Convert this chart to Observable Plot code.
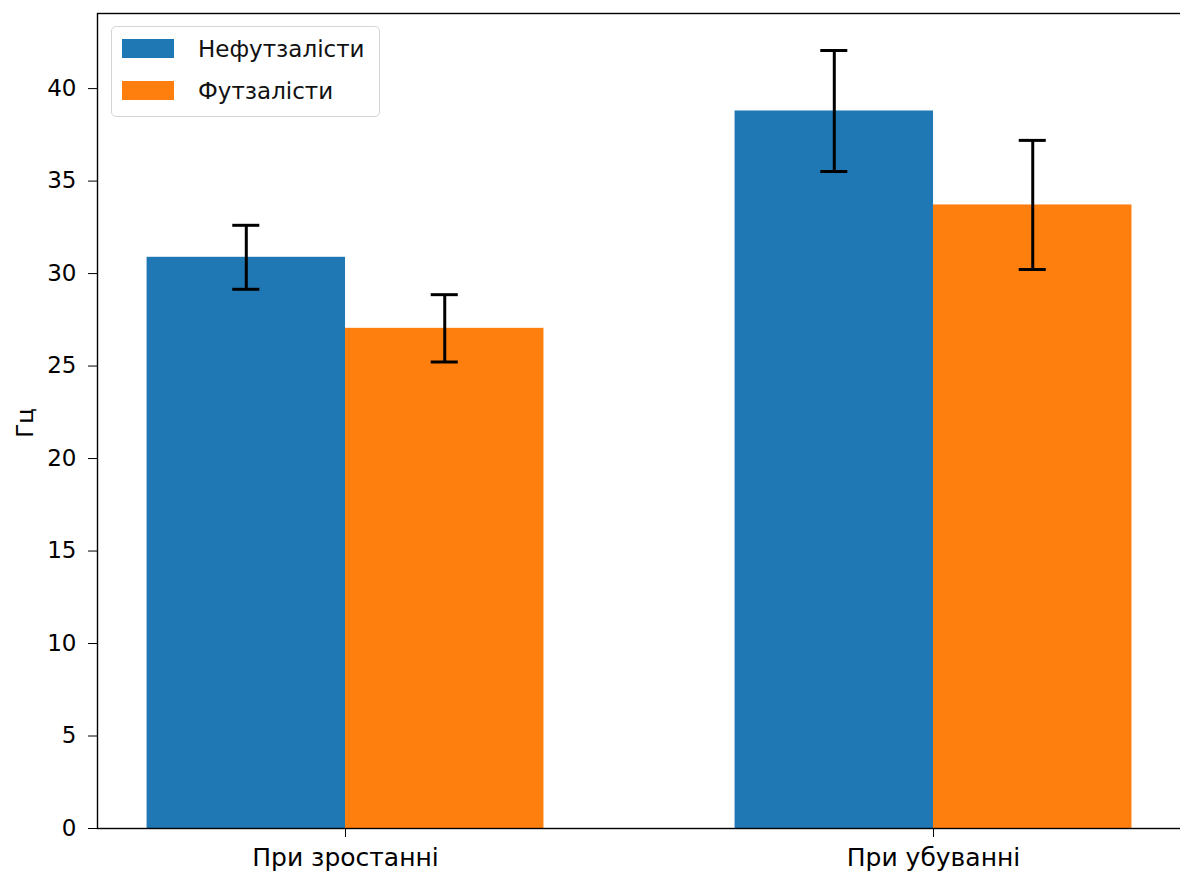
<!DOCTYPE html>
<html>
<head>
<meta charset="utf-8">
<script src="https://cdn.jsdelivr.net/npm/d3@7"></script>
<script src="https://cdn.jsdelivr.net/npm/@observablehq/plot@0.6"></script>
<style>
  html, body { margin: 0; padding: 0; background: white; overflow: hidden; }
  #wrap { position: relative; width: 1180px; height: 877px; overflow: hidden; font-family: "DejaVu Sans", sans-serif; }
  #chart svg { max-width: none !important; }
  #chart svg g[aria-label="x-axis tick label"] text { font-size: 25px; }
  #legend { position: absolute; left: 111px; top: 26px; width: 269px; height: 91px; box-sizing: border-box;
            border: 1px solid #d5d5d5; border-radius: 5px; background: rgba(255,255,255,0.85); }
  .row { position: absolute; left: 10px; height: 19px; }
  .sw { position: absolute; left: 0; top: 0; width: 52px; height: 19px; }
  .lbl { position: absolute; left: 76px; top: 50%; transform: translateY(-50%); white-space: nowrap; font-size: 23px; color: #111; line-height: 1; }
</style>
</head>
<body>
<div id="wrap">
  <div id="chart"></div>
  <div id="legend"></div>
</div>
<script>
const categories = ["При зростанні", "При убуванні"];
const seriesNames = ["Нефутзалісти", "Футзалісти"];
const seriesColors = ["#1f77b4", "#ff7f0e"];
const nonFutsalMeans = [30.88, 38.79];
const nonFutsalErrors = [1.73, 3.27];
const futsalMeans = [27.04, 33.71];
const futsalErrors = [1.82, 3.49];
const yTicks = [0, 5, 10, 15, 20, 25, 30, 35, 40];
const yLabel = "Гц";

const barWidth = 0.3375;
const capHalf = 0.023;
const means = [nonFutsalMeans, futsalMeans];
const errors = [nonFutsalErrors, futsalErrors];

const rows = [];
categories.forEach((c, i) => {
  seriesNames.forEach((s, k) => {
    const x1 = i + (k === 0 ? -barWidth : 0);
    rows.push({
      category: c, series: s, color: seriesColors[k],
      x1, x2: x1 + barWidth, cx: x1 + barWidth / 2,
      value: means[k][i], lo: means[k][i] - errors[k][i], hi: means[k][i] + errors[k][i]
    });
  });
});

const xLeft = -0.4218;
const chart = Plot.plot({
  width: 1185,
  height: 877,
  marginLeft: 97,
  marginRight: 0,
  marginTop: 13,
  marginBottom: 49,
  style: { fontFamily: "DejaVu Sans", fontSize: "23px", color: "black", background: "white", overflow: "visible", maxWidth: "none" },
  x: {
    domain: [xLeft, xLeft + 1088 / 588],
    ticks: [0, 1],
    tickFormat: i => categories[i],
    tickSize: 9,
    tickPadding: 11,
    label: null
  },
  y: {
    domain: [0, 44.06],
    ticks: yTicks,
    tickSize: 9,
    tickPadding: 12,
    label: null
  },
  marks: [
    Plot.rect(rows, { x1: "x1", x2: "x2", y1: 0, y2: "value", fill: "color", inset: 0 }),
    Plot.ruleX(rows, { x: "cx", y1: "lo", y2: "hi", stroke: "black", strokeWidth: 3 }),
    Plot.ruleY(rows, { y: "hi", x1: d => d.cx - capHalf, x2: d => d.cx + capHalf, stroke: "black", strokeWidth: 3 }),
    Plot.ruleY(rows, { y: "lo", x1: d => d.cx - capHalf, x2: d => d.cx + capHalf, stroke: "black", strokeWidth: 3 }),
    Plot.text([yLabel], { frameAnchor: "left", text: d => d, rotate: -90, dx: -72, dy: 2, textAnchor: "middle", fontSize: 23, fill: "black" }),
    Plot.frame({ stroke: "black", strokeWidth: 1.4 })
  ]
});
document.getElementById("chart").appendChild(chart);

const legend = document.getElementById("legend");
seriesNames.forEach((s, k) => {
  const row = document.createElement("div");
  row.className = "row";
  row.style.top = (12 + k * 42) + "px";
  row.innerHTML = `<div class="sw" style="background:${seriesColors[k]}"></div><div class="lbl">${s}</div>`;
  legend.appendChild(row);
});
</script>
</body>
</html>
